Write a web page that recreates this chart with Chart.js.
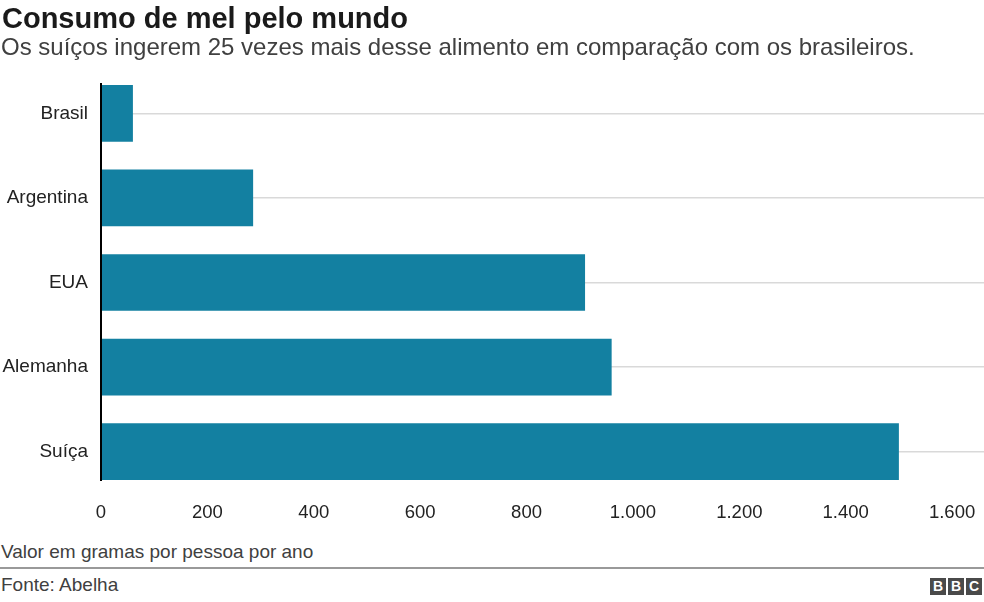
<!DOCTYPE html>
<html lang="pt">
<head>
<meta charset="utf-8">
<script src="https://cdn.jsdelivr.net/npm/chart.js@4/dist/chart.umd.min.js"></script>
<style>
  html, body { margin: 0; padding: 0; background: #fff; }
  body { width: 984px; height: 602px; position: relative; overflow: hidden; font-family: "Liberation Sans", Arial, Helvetica, sans-serif; }
  #title { position: absolute; left: 2px; top: 1px; font-size: 29px; font-weight: bold; color: #1a1a1a; white-space: nowrap; line-height: 34px; }
  #subtitle { position: absolute; left: 1px; top: 33px; font-size: 24px; color: #404040; white-space: nowrap; line-height: 28px; }
  #wrap { position: absolute; left: 0; top: 0; width: 984px; height: 540px; }
  #note { position: absolute; left: 1px; top: 541px; font-size: 19px; color: #404040; white-space: nowrap; line-height: 22px; }
  #rule { position: absolute; left: 0; top: 567px; width: 984px; height: 0; border-top: 2px solid #999; }
  #source { position: absolute; left: 1px; top: 574px; font-size: 19px; color: #404040; white-space: nowrap; line-height: 22px; }
  #bbc { position: absolute; right: 2px; top: 578px; display: flex; gap: 2px; }
  #bbc span { display: block; width: 16px; height: 17px; background: #4a4a4a; color: #fff; font-weight: bold; font-size: 14px; line-height: 17px; text-align: center; }
</style>
</head>
<body>
<div id="wrap"><canvas id="c"></canvas></div>
<div id="title">Consumo de mel pelo mundo</div>
<div id="subtitle">Os suíços ingerem 25 vezes mais desse alimento em comparação com os brasileiros.</div>
<div id="note">Valor em gramas por pessoa por ano</div>
<div id="rule"></div>
<div id="source">Fonte: Abelha</div>
<div id="bbc"><span>B</span><span>B</span><span>C</span></div>
<script>
const categories = ['Brasil', 'Argentina', 'EUA', 'Alemanha', 'Suíça'];
const values = [60, 286, 910, 960, 1500];
const tickValues = [0, 200, 400, 600, 800, 1000, 1200, 1400, 1600];
const tickLabels = ['0', '200', '400', '600', '800', '1.000', '1.200', '1.400', '1.600'];

const FONT = '"Liberation Sans", Arial, Helvetica, sans-serif';

const axisLine = {
  id: 'axisLine',
  afterDatasetsDraw(chart) {
    const meta = chart.getDatasetMeta(0);
    const first = meta.data[0], last = meta.data[meta.data.length - 1];
    const top = first.y - first.height / 2 - 2;
    const bottom = last.y + last.height / 2 + 1;
    const x = chart.chartArea.left;
    const ctx = chart.ctx;
    ctx.save();
    ctx.strokeStyle = '#000';
    ctx.lineWidth = 2;
    ctx.beginPath();
    ctx.moveTo(x, top);
    ctx.lineTo(x, bottom);
    ctx.stroke();
    ctx.restore();
  }
};

new Chart(document.getElementById('c'), {
  type: 'bar',
  data: {
    labels: categories,
    datasets: [{
      data: values,
      backgroundColor: '#1380A1',
      borderWidth: 0,
      barPercentage: 0.67,
      categoryPercentage: 1
    }]
  },
  options: {
    indexAxis: 'y',
    responsive: true,
    maintainAspectRatio: false,
    animation: false,
    layout: { padding: { top: 71, left: 0, right: 0, bottom: 0 } },
    plugins: { legend: { display: false }, tooltip: { enabled: false }, title: { display: false } },
    scales: {
      y: {
        afterFit(scale) { scale.width = 101; },
        grid: { offset: false, color: '#d9d9d9', lineWidth: 1.5, drawTicks: false },
        border: { display: false },
        ticks: { padding: 13, color: '#222', font: { family: FONT, size: 19 } }
      },
      x: {
        min: 0,
        max: 1660,
        afterFit(scale) { scale.height = 46; },
        afterBuildTicks(scale) { scale.ticks = tickValues.map(v => ({ value: v })); },
        grid: { display: false, drawTicks: false },
        border: { display: false },
        ticks: {
          padding: 8,
          color: '#222',
          maxRotation: 0,
          autoSkip: false,
          font: { family: FONT, size: 18.5 },
          callback(value) { const i = tickValues.indexOf(value); return i >= 0 ? tickLabels[i] : ''; }
        }
      }
    }
  },
  plugins: [axisLine]
});
</script>
</body>
</html>
